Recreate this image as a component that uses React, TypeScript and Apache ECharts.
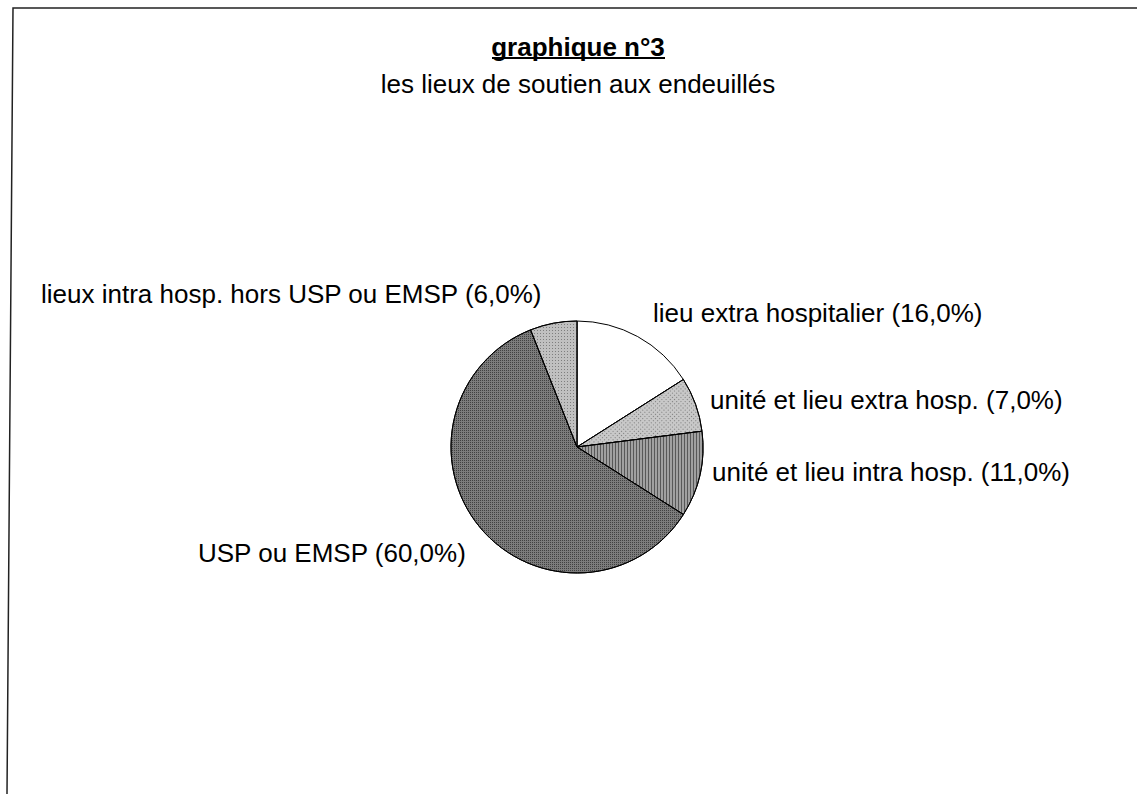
import React, { useEffect, useRef } from "react";
import * as echarts from "echarts";

const titleText = "graphique n°3";
const subtitleText = "les lieux de soutien aux endeuillés";

const categories = [
  "lieu extra hospitalier",
  "unité et lieu extra hosp.",
  "unité et lieu intra hosp.",
  "USP ou EMSP",
  "lieux intra hosp. hors USP ou EMSP",
];
const values = [16.0, 7.0, 11.0, 60.0, 6.0];

const sliceColors = ["#ffffff", "#c8c8c8", "#a0a0a0", "#7c7c7c", "#c0c0c0"];
const decals: any[] = [
  null,
  { symbol: "rect", symbolSize: 1, dashArrayX: [1, 2], dashArrayY: [1, 2], rotation: Math.PI / 4, color: "rgba(60,60,60,0.55)" },
  { symbol: "rect", symbolSize: 1, dashArrayX: [1, 2], dashArrayY: [4, 0], color: "rgba(40,40,40,0.6)" },
  { symbol: "rect", symbolSize: 1, dashArrayX: [1, 1], dashArrayY: [1, 1], color: "rgba(25,25,25,0.6)" },
  { symbol: "rect", symbolSize: 1, dashArrayX: [1, 2], dashArrayY: [1, 2], color: "rgba(60,60,60,0.5)" },
];

// label anchor positions (left edge, vertical middle) in pixels
const labelPos = [
  [653, 313],
  [710, 400],
  [712, 472],
  [198, 553],
  [41, 294],
];

const FONT = "'Liberation Sans', Arial, sans-serif";

export default function App() {
  const ref = useRef<HTMLDivElement>(null);
  useEffect(() => {
    if (!ref.current) return;
    const chart = echarts.init(ref.current, undefined, { renderer: "svg" });
    const fmt = (v: number) => v.toFixed(1).replace(".", ",");
    chart.setOption({
      animation: false,
      backgroundColor: "#ffffff",
      graphic: [
        {
          type: "polyline",
          shape: { points: [[1137, 8], [13, 8], [7, 794]] },
          style: { stroke: "#222", lineWidth: 1.5, fill: null },
          silent: true,
        },
        {
          type: "text",
          x: 578,
          y: 47,
          style: {
            text: titleText,
            font: `bold 26px ${FONT}`,
            fill: "#000",
            align: "center",
            verticalAlign: "middle",
          },
        },
        {
          type: "line",
          shape: { x1: 492, y1: 58, x2: 665, y2: 58 },
          style: { stroke: "#000", lineWidth: 2 },
        },
        {
          type: "text",
          x: 578,
          y: 84,
          style: {
            text: subtitleText,
            font: `26px ${FONT}`,
            fill: "#000",
            align: "center",
            verticalAlign: "middle",
          },
        },
      ],
      series: [
        {
          type: "pie",
          center: [577, 447],
          radius: 126,
          startAngle: 90,
          clockwise: true,
          avoidLabelOverlap: false,
          itemStyle: { borderColor: "#000", borderWidth: 1 },
          label: {
            show: true,
            position: "outside",
            formatter: (p: any) => `${p.name} (${fmt(p.value)}%)`,
            fontFamily: FONT,
            fontSize: 26,
            color: "#000",
          },
          labelLine: { show: false },
          labelLayout: (params: any) => {
            const pos = labelPos[params.dataIndex];
            return { x: pos[0], y: pos[1], align: "left", verticalAlign: "middle" };
          },
          emphasis: { disabled: true },
          data: categories.map((name, i) => ({
            name,
            value: values[i],
            itemStyle: decals[i]
              ? { color: sliceColors[i], decal: decals[i] }
              : { color: sliceColors[i] },
          })),
        },
      ],
    });
    return () => chart.dispose();
  }, []);
  return (
    <div
      ref={ref}
      style={{ position: "fixed", left: 0, top: 0, width: 1137, height: 794 }}
    />
  );
}
